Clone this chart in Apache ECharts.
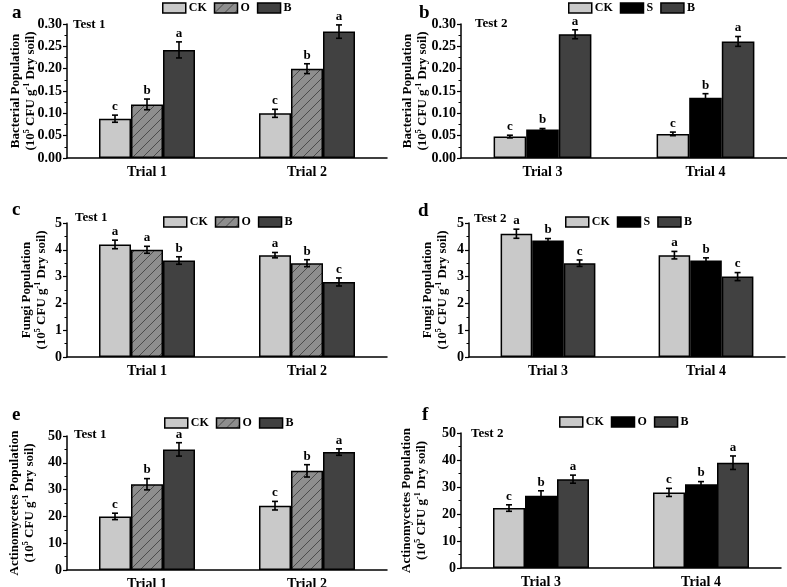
<!DOCTYPE html>
<html><head><meta charset="utf-8">
<script src="https://cdn.jsdelivr.net/npm/echarts@6/dist/echarts.min.js"></script>
<style>
html,body{margin:0;padding:0;background:#fff;}
#wrap{position:relative;width:787px;height:587px;overflow:hidden;}
.p{position:absolute;}
</style></head><body><div id="wrap">
<div class="p" id="pa" style="left:0;top:0;width:393px;height:195px"></div>
<div class="p" id="pb" style="left:393px;top:0;width:394px;height:195px"></div>
<div class="p" id="pc" style="left:0;top:195px;width:393px;height:195px"></div>
<div class="p" id="pd" style="left:393px;top:195px;width:394px;height:195px"></div>
<div class="p" id="pe" style="left:0;top:390px;width:393px;height:197px"></div>
<div class="p" id="pf" style="left:393px;top:390px;width:394px;height:197px"></div>
</div>
<script>
// ---------------- data ----------------
const trialsTest1 = ['Trial 1', 'Trial 2'];
const trialsTest2 = ['Trial 3', 'Trial 4'];
const bactTicks = [0, 0.05, 0.10, 0.15, 0.20, 0.25, 0.30];
const fungTicks = [0, 1, 2, 3, 4, 5];
const actTicks = [0, 10, 20, 30, 40, 50];

// (a) bacteria, Test 1
const bactT1_CK = [0.088, 0.100];  const bactT1_CK_err = [0.008, 0.009];  const bactT1_CK_sig = ['c', 'c'];
const bactT1_O  = [0.120, 0.200];  const bactT1_O_err  = [0.012, 0.011];  const bactT1_O_sig  = ['b', 'b'];
const bactT1_B  = [0.242, 0.283];  const bactT1_B_err  = [0.018, 0.015];  const bactT1_B_sig  = ['a', 'a'];
// (b) bacteria, Test 2
const bactT2_CK = [0.048, 0.054];  const bactT2_CK_err = [0.003, 0.004];  const bactT2_CK_sig = ['c', 'c'];
const bactT2_S  = [0.064, 0.135];  const bactT2_S_err  = [0.002, 0.009];  const bactT2_S_sig  = ['b', 'b'];
const bactT2_B  = [0.277, 0.261];  const bactT2_B_err  = [0.010, 0.011];  const bactT2_B_sig  = ['a', 'a'];
// (c) fungi, Test 1
const fungT1_CK = [4.2, 3.8];   const fungT1_CK_err = [0.16, 0.10];  const fungT1_CK_sig = ['a', 'a'];
const fungT1_O  = [4.0, 3.5];   const fungT1_O_err  = [0.13, 0.13];  const fungT1_O_sig  = ['a', 'b'];
const fungT1_B  = [3.6, 2.8];   const fungT1_B_err  = [0.14, 0.15];  const fungT1_B_sig  = ['b', 'c'];
// (d) fungi, Test 2
const fungT2_CK = [4.6, 3.8];   const fungT2_CK_err = [0.17, 0.14];  const fungT2_CK_sig = ['a', 'a'];
const fungT2_S  = [4.35, 3.6];  const fungT2_S_err  = [0.07, 0.10];  const fungT2_S_sig  = ['b', 'b'];
const fungT2_B  = [3.5, 3.0];   const fungT2_B_err  = [0.12, 0.15];  const fungT2_B_sig  = ['c', 'c'];
// (e) actinomycetes, Test 1
const actT1_CK = [20, 24];    const actT1_CK_err = [1.2, 1.6];  const actT1_CK_sig = ['c', 'c'];
const actT1_O  = [32, 37];    const actT1_O_err  = [2.1, 2.3];  const actT1_O_sig  = ['b', 'b'];
const actT1_B  = [45, 44];    const actT1_B_err  = [2.5, 1.2];  const actT1_B_sig  = ['a', 'a'];
// (f) actinomycetes, Test 2
const actT2_CK = [22.2, 28];  const actT2_CK_err = [1.2, 1.5];  const actT2_CK_sig = ['c', 'c'];
const actT2_O  = [26.8, 31];  const actT2_O_err  = [1.8, 1.0];  const actT2_O_sig  = ['b', 'b'];
const actT2_B  = [32.9, 39];  const actT2_B_err  = [1.5, 2.5];  const actT2_B_sig  = ['a', 'a'];

// ---------------- styling ----------------
const FONT = '"Liberation Serif", "Times New Roman", serif';
const C_CK = '#c9c9c9';
const C_B = '#414141';
const C_S = '#000000';

function hatch() {
  const c = document.createElement('canvas');
  c.width = 10; c.height = 10;
  const g = c.getContext('2d');
  g.fillStyle = '#8e8e8e'; g.fillRect(0, 0, 10, 10);
  g.strokeStyle = '#3a3a3a'; g.lineWidth = 0.8;
  g.beginPath();
  g.moveTo(0, 10); g.lineTo(10, 0);
  g.moveTo(-2, 2); g.lineTo(2, -2);
  g.moveTo(8, 12); g.lineTo(12, 8);
  g.stroke();
  return { image: c, repeat: 'repeat' };
}
const C_O = hatch();

function errRender(k, sig) {
  return function (params, api) {
    const i = api.value(0), v = api.value(1), e = api.value(2);
    const band = api.size([1, 0])[0];
    const bw = band * 0.6 / 3;
    const cx = api.coord([i, v])[0] + (k - 1) * bw;
    const yt = api.coord([i, v + e])[1];
    const yb = api.coord([i, v - e])[1];
    const cap = 3;
    const st = { stroke: '#000', lineWidth: 1.6 };
    return {
      type: 'group', children: [
        { type: 'line', shape: { x1: cx, y1: yt, x2: cx, y2: yb }, style: st },
        { type: 'line', shape: { x1: cx - cap, y1: yt, x2: cx + cap, y2: yt }, style: st },
        { type: 'line', shape: { x1: cx - cap, y1: yb, x2: cx + cap, y2: yb }, style: st },
        { type: 'text', style: { x: cx, y: yt - 2, text: sig[params.dataIndex], font: 'bold 13px ' + FONT, fill: '#000', align: 'center', verticalAlign: 'bottom' } }
      ]
    };
  };
}

function makePanel(id, cfg) {
  const chart = echarts.init(document.getElementById(id), null, { renderer: 'canvas' });
  const series = [];
  for (let k = 0; k < 3; k++) {
    series.push({
      name: cfg.names[k], type: 'bar', data: cfg.values[k],
      barGap: '0%', barCategoryGap: '40%',
      itemStyle: { color: cfg.colors[k], borderColor: '#000', borderWidth: 1.5 },
      emphasis: { disabled: true }
    });
  }
  for (let k = 0; k < 3; k++) {
    series.push({
      type: 'custom', silent: true, z: 10,
      data: cfg.values[k].map((v, i) => [i, v, cfg.errs[k][i]]),
      encode: { x: 0, y: 1 },
      renderItem: errRender(k, cfg.sigs[k])
    });
  }
  const ticks = cfg.ticks;
  chart.setOption({
    animation: false,
    grid: { left: cfg.grid[0], top: cfg.grid[1], width: cfg.grid[2], height: cfg.grid[3], containLabel: false, outerBoundsMode: 'none' },
    legend: {
      left: cfg.legend[0], top: cfg.legend[1], padding: 0, itemWidth: 23, itemHeight: 10, itemGap: 7,
      icon: 'rect', selectedMode: false,
      itemStyle: { borderColor: '#000', borderWidth: 1.5 },
      textStyle: { fontFamily: FONT, fontWeight: 'bold', fontSize: 12, color: '#000', padding: [0, 0, 0, -2] },
      data: cfg.names
    },
    xAxis: {
      type: 'category', data: cfg.cats,
      axisLine: { lineStyle: { color: '#000', width: 1.5 } },
      axisTick: { show: false },
      axisLabel: { fontFamily: FONT, fontWeight: 'bold', fontSize: 14, color: '#000', margin: 7 }
    },
    yAxis: {
      type: 'value', min: ticks[0], max: ticks[ticks.length - 1], interval: ticks[1] - ticks[0],
      axisLine: { show: true, lineStyle: { color: '#000', width: 1.5 } },
      axisTick: { show: true, length: 4, lineStyle: { color: '#000', width: 1.2 } },
      minorTick: { show: true, splitNumber: 2, length: 2.5, lineStyle: { color: '#000', width: 1 } },
      splitLine: { show: false },
      axisLabel: {
        fontFamily: FONT, fontWeight: 'bold', fontSize: 14, color: '#000', margin: 5,
        formatter: cfg.fmt
      },
      name: cfg.yname, nameLocation: 'middle', nameRotate: 90, nameGap: cfg.nameGap, nameMoveOverlap: false,
      nameTextStyle: {
        fontFamily: FONT, fontWeight: 'bold', fontSize: 13, lineHeight: 15, color: '#000',
        rich: { sup: { fontFamily: FONT, fontWeight: 'bold', fontSize: 8, lineHeight: 15, verticalAlign: 'top', color: '#000' } }
      }
    },
    graphic: [
      { type: 'text', left: cfg.letterPos[0], top: cfg.letterPos[1], style: { text: cfg.letter, font: 'bold 19px ' + FONT, fill: '#000' } },
      { type: 'text', left: cfg.testPos[0], top: cfg.testPos[1], style: { text: cfg.test, font: 'bold 13px ' + FONT, fill: '#000' } }
    ],
    series: series
  });
}

const unitLine = '(10{sup|5} CFU g{sup|-1} Dry soil)';
const fmt2 = v => v.toFixed(2);
const fmt0 = v => String(v);

makePanel('pa', {
  cats: trialsTest1, names: ['CK', 'O', 'B'], colors: [C_CK, C_O, C_B],
  values: [bactT1_CK, bactT1_O, bactT1_B], errs: [bactT1_CK_err, bactT1_O_err, bactT1_B_err], sigs: [bactT1_CK_sig, bactT1_O_sig, bactT1_B_sig],
  ticks: bactTicks, fmt: fmt2, yname: 'Bacterial Population\n' + unitLine, nameGap: 29,
  grid: [67, 24, 320, 134], legend: [162, 2], letter: 'a', letterPos: [12, 4], test: 'Test 1', testPos: [73, 18]
});
makePanel('pb', {
  cats: trialsTest2, names: ['CK', 'S', 'B'], colors: [C_CK, C_S, C_B],
  values: [bactT2_CK, bactT2_S, bactT2_B], errs: [bactT2_CK_err, bactT2_S_err, bactT2_B_err], sigs: [bactT2_CK_sig, bactT2_S_sig, bactT2_B_sig],
  ticks: bactTicks, fmt: fmt2, yname: 'Bacterial Population\n' + unitLine, nameGap: 31,
  grid: [68, 24, 326, 134], legend: [175, 2], letter: 'b', letterPos: [26, 4], test: 'Test 2', testPos: [82, 17]
});
makePanel('pc', {
  cats: trialsTest1, names: ['CK', 'O', 'B'], colors: [C_CK, C_O, C_B],
  values: [fungT1_CK, fungT1_O, fungT1_B], errs: [fungT1_CK_err, fungT1_O_err, fungT1_B_err], sigs: [fungT1_CK_sig, fungT1_O_sig, fungT1_B_sig],
  ticks: fungTicks, fmt: fmt0, yname: 'Fungi Population\n' + unitLine, nameGap: 18,
  grid: [67, 28, 320, 134], legend: [163, 21], letter: 'c', letterPos: [12, 6], test: 'Test 1', testPos: [75, 16]
});
makePanel('pd', {
  cats: trialsTest2, names: ['CK', 'S', 'B'], colors: [C_CK, C_S, C_B],
  values: [fungT2_CK, fungT2_S, fungT2_B], errs: [fungT2_CK_err, fungT2_S_err, fungT2_B_err], sigs: [fungT2_CK_sig, fungT2_S_sig, fungT2_B_sig],
  ticks: fungTicks, fmt: fmt0, yname: 'Fungi Population\n' + unitLine, nameGap: 19,
  grid: [76, 28, 316, 134], legend: [172, 21], letter: 'd', letterPos: [25, 7], test: 'Test 2', testPos: [81, 17]
});
makePanel('pe', {
  cats: trialsTest1, names: ['CK', 'O', 'B'], colors: [C_CK, C_O, C_B],
  values: [actT1_CK, actT1_O, actT1_B], errs: [actT1_CK_err, actT1_O_err, actT1_B_err], sigs: [actT1_CK_sig, actT1_O_sig, actT1_B_sig],
  ticks: actTicks, fmt: fmt0, yname: 'Actinomycetes Population\n' + unitLine, nameGap: 30,
  grid: [67, 46, 320, 134], legend: [164, 27], letter: 'e', letterPos: [12, 16], test: 'Test 1', testPos: [74, 38]
});
makePanel('pf', {
  cats: trialsTest2, names: ['CK', 'O', 'B'], colors: [C_CK, C_S, C_B],
  values: [actT2_CK, actT2_O, actT2_B], errs: [actT2_CK_err, actT2_O_err, actT2_B_err], sigs: [actT2_CK_sig, actT2_O_sig, actT2_B_sig],
  ticks: actTicks, fmt: fmt0, yname: 'Actinomycetes Population\n' + unitLine, nameGap: 32,
  grid: [68, 43, 320, 135], legend: [166, 26], letter: 'f', letterPos: [29, 16], test: 'Test 2', testPos: [78, 37]
});
</script>
</body></html>
